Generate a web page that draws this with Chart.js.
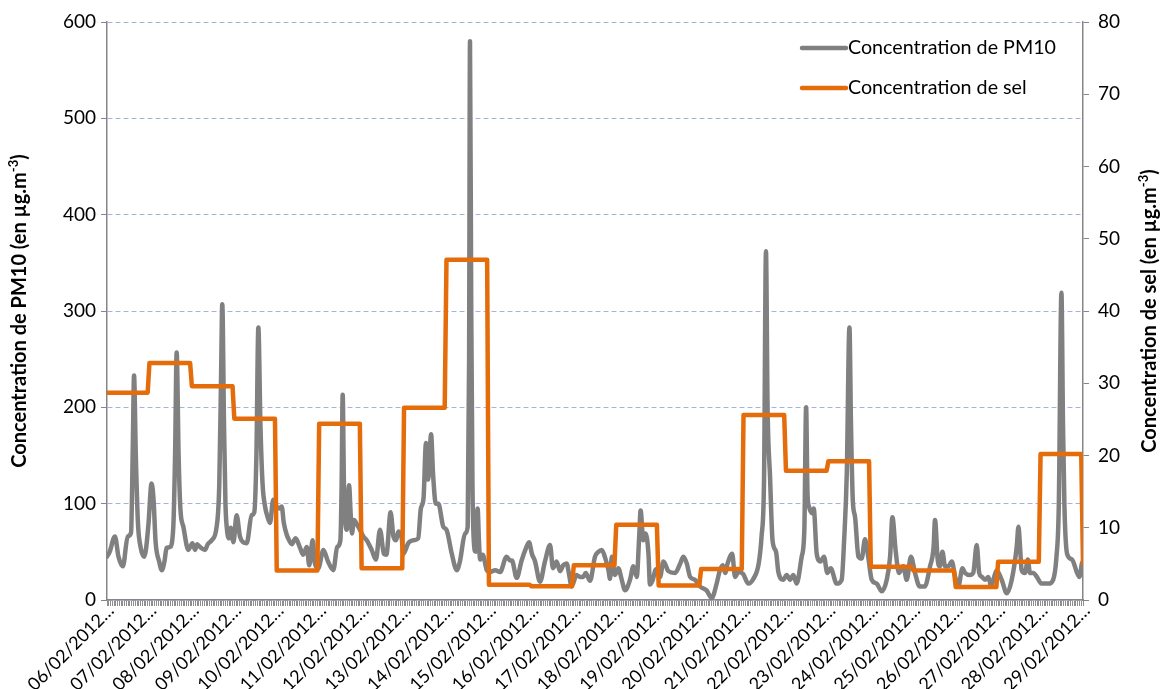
<!DOCTYPE html>
<html>
<head>
<meta charset="utf-8">
<script src="https://cdn.jsdelivr.net/npm/chart.js@4"></script>
<style>
  html, body { margin: 0; padding: 0; background: #ffffff; }
  #wrap { width: 1162px; height: 689px; position: relative; }
</style>
</head>
<body>
<div id="wrap"><canvas id="chart" width="1162" height="689"></canvas></div>
<script>
// Day labels along the time axis (one every 24 hourly readings)
const dayLabels = [
  '06/02/2012…', '07/02/2012…', '08/02/2012…', '09/02/2012…', '10/02/2012…', '11/02/2012…',
  '12/02/2012…', '13/02/2012…', '14/02/2012…', '15/02/2012…', '16/02/2012…', '17/02/2012…',
  '18/02/2012…', '19/02/2012…', '20/02/2012…', '21/02/2012…', '22/02/2012…', '23/02/2012…',
  '24/02/2012…', '25/02/2012…', '26/02/2012…', '27/02/2012…', '28/02/2012…', '29/02/2012…'
];

// PM10 concentration (µg.m-3): hour since 06/02 00:00 and value
const pm10Hours = [
  0, 1.5, 4.5, 6.5, 9, 11.7, 13.6, 14.6, 15.3, 16.3, 17.5, 19, 21,
  22, 23.5, 25.2, 26.3, 27.5, 29.5, 31, 32.5, 33.7, 35.6, 37.5, 38.5, 39.4, 40.5, 41.5, 43.2,
  46, 48.3, 49.8, 51, 52.6, 55.4, 57, 59.2, 62, 63.5, 64.5, 65.2, 66.2, 67, 67.7, 69, 70, 71.5,
  73.3, 75.2, 77, 79, 81.8, 83.3, 84.5, 85.6, 86.8, 88, 89.4, 91, 92.2, 94, 95.9, 97.5, 98.8,
  100, 101.6, 103, 104.5, 106.7, 109, 111, 113, 114.4, 116.3, 117.6, 119.5, 122.4, 125, 128,
  130.2, 132, 132.7, 133.3, 134, 134.6, 135.6, 136.9, 137.8, 138.5, 139.7, 141.5, 143, 145,
  146.9, 149.7, 152.1, 154.4, 156.6, 158, 160.4, 162, 163.5, 164.8, 166.7, 167.6, 170.4, 173.3,
  176, 177.5, 179, 180.4, 181.6, 183.3, 184.4, 186, 187.4, 190.2, 192, 195, 197.8, 199.6, 202.5,
  204, 204.8, 205.3, 206, 206.7, 207.5, 208.5, 209.6, 210.4, 211, 212.5, 214.8, 216.6, 219.6,
  222.3, 226, 228, 229, 231.7, 234.5, 236.8, 238.7, 240.3, 242.1, 244.9, 247.7, 250.6, 252.2,
  254.3, 256.2, 258, 260, 261.2, 262.8, 265.6, 267.5, 269.4, 270.7, 273.2, 276, 277.9, 279.8,
  281.7, 283.6, 284.5, 285.5, 287.3, 289.2, 291, 293, 295.8, 297.7, 299.6, 301, 301.8, 303.3,
  304.6, 306.2, 307.1, 308.5, 310.5, 312.8, 314.7, 317.5, 321.3, 324.2, 326, 327.9, 329.8, 332.6,
  335.4, 339.1, 342, 344.8, 346.5, 348.3, 349.6, 351, 353.6, 355.2, 357, 359.8, 362.7, 365.6,
  368.6, 370.2, 371.6, 372.7, 373.6, 375, 376.4, 378.4, 379.7, 382.5, 384.4, 386.3, 388.2, 390,
  392.9, 394.4, 395.4, 396.2, 397, 398.8, 399.7, 401.4, 403.6, 405.5, 407.4, 409.3, 412.7, 415.5,
  416.9, 418.4, 419.9, 420.8, 421.8, 423.1, 425, 426.8, 428.7, 430.5, 432.5, 435.3, 438.2, 441,
  442.9, 444.2, 446, 447.9, 450.4, 452.3, 454.7, 457, 459.7, 462.5, 465.5, 467.5, 468.3, 469.8,
  471, 472.5, 474, 475.9, 477.8, 479.7, 481.5, 483.8, 485.3, 488.1, 489.9, 491.9, 493.3, 494.8,
  496.6, 498.5, 500, 501.3, 503.2, 506, 508.9, 511.7, 514.5, 515.5, 516.4, 517.3, 519.2, 520.8,
  522, 524, 525.9, 528.5, 532.4, 535.1, 537, 538.3, 539.8, 540.7, 541.5, 543, 545.8, 548.7, 550,
  551.4, 552
];
const pm10Values = [
  45, 50, 66, 45, 35, 66, 70, 160, 233, 150, 80, 55, 45,
  52, 80, 121, 105, 60, 40, 31, 40, 54, 55, 76, 150, 257, 150, 95, 76,
  52, 59, 52, 58, 55, 52, 58, 62, 76, 120, 230, 307, 180, 100, 76, 64, 75, 60,
  88, 66, 60, 59, 88, 91, 150, 283, 180, 120, 97, 85, 80, 104, 97, 95, 97,
  80, 68, 62, 58, 64, 55, 47, 55, 36, 62, 38, 33, 52, 40, 31,
  55, 62, 120, 213, 120, 86, 73, 119, 90, 69, 83, 78, 73, 66,
  62, 52, 42, 73, 48, 47, 91, 66, 62, 71, 64, 48, 59, 62,
  64, 95, 105, 163, 125, 172, 131, 100, 100, 76, 73, 48, 31, 40, 69,
  76, 250, 580, 300, 120, 60, 50, 95, 60, 42, 47, 31, 29, 31,
  29, 45, 41, 41, 23, 41, 53, 60, 48, 40, 19, 40, 57, 33,
  40, 30, 36, 38, 28, 14, 26, 24, 24, 28, 20, 45, 50, 52,
  44, 31, 22, 45, 26, 33, 22, 10, 21, 35, 24, 66, 93, 62,
  69, 49, 16, 20, 32, 24, 40, 30, 28, 38, 45, 38, 24, 21,
  14, 10, 2, 17, 30, 36, 28, 38, 48, 24, 29, 27, 17, 22,
  38, 66, 125, 362, 200, 128, 62, 50, 29, 21, 26, 21, 26, 17,
  45, 73, 200, 110, 97, 90, 95, 48, 40, 45, 28, 33, 17, 21,
  62, 131, 283, 180, 104, 86, 45, 43, 63, 45, 21, 17, 9, 21,
  45, 86, 52, 28, 35, 21, 45, 28, 14, 14, 35, 55, 83, 42,
  35, 50, 35, 35, 40, 24, 14, 33, 28, 26, 28, 57, 28, 24,
  21, 24, 14, 21, 31, 21, 7, 21, 55, 76, 55, 31, 28, 42,
  28, 28, 24, 17, 17, 21, 45, 97, 319, 180, 97, 48, 42, 28, 24,
  38, 40
];

// Daily salt concentration (µg.m-3), one value per day from 06/02 to 28/02,
// then the 29/02 00:00 reading
const saltDaily = [
  28.7, 32.8, 29.6, 25.1, 4.1, 24.4, 4.4, 26.6, 47.1, 2.1, 1.9, 4.8,
  10.4, 2.0, 4.3, 25.6, 17.9, 19.2, 4.6, 4.1, 1.8, 5.3, 20.2
];
const saltLast = 5.1;

const FONT = 'Lato, "Open Sans", sans-serif';
const AXIS_GREY = '#868686';

// hourly readings: each daily value covers hours 0..23 of its day
const saltPoints = [];
saltDaily.forEach((v, d) => {
  saltPoints.push({ x: d * 24, y: v });
  saltPoints.push({ x: d * 24 + 23, y: v });
});
saltPoints.push({ x: dayLabels.length * 24 - 24, y: saltLast });

const pm10Points = pm10Hours.map((h, i) => ({ x: h, y: pm10Values[i] }));

// legend drawn inside the plot, top right, entries stacked
const insideLegend = {
  id: 'insideLegend',
  afterDraw(chart) {
    const { ctx } = chart;
    const x0 = 802, lineW = 44, rowY = [48, 88];
    ctx.save();
    chart.data.datasets.forEach((ds, i) => {
      const y = rowY[i];
      ctx.beginPath();
      ctx.lineCap = 'round';
      ctx.strokeStyle = ds.borderColor;
      ctx.lineWidth = 4.5;
      ctx.moveTo(x0, y);
      ctx.lineTo(x0 + lineW, y);
      ctx.stroke();
      ctx.fillStyle = '#000000';
      ctx.font = '19.7px ' + FONT;
      ctx.textBaseline = 'middle';
      ctx.textAlign = 'left';
      ctx.fillText(ds.label, x0 + lineW + 2, y);
    });
    ctx.restore();
  }
};

// vertical axis titles, both read bottom to top, with a raised "-3"
function drawUnitTitle(ctx, cx, cy, main, unitTail) {
  ctx.save();
  ctx.translate(cx, cy);
  ctx.rotate(-Math.PI / 2);
  ctx.fillStyle = '#000000';
  ctx.textBaseline = 'middle';
  ctx.textAlign = 'left';
  const big = 'bold 20px ' + FONT, small = 'bold 13px ' + FONT;
  ctx.font = big;
  const w1 = ctx.measureText(main).width;
  ctx.font = small;
  const w2 = ctx.measureText('-3').width;
  ctx.font = big;
  const w3 = ctx.measureText(unitTail).width;
  let x = -(w1 + w2 + w3) / 2;
  ctx.fillText(main, x, 0);
  x += w1;
  ctx.font = small;
  ctx.fillText('-3', x, -6);
  x += w2;
  ctx.font = big;
  ctx.fillText(unitTail, x, 0);
  ctx.restore();
}
const axisTitles = {
  id: 'axisTitles',
  afterDraw(chart) {
    const { ctx, chartArea } = chart;
    const cy = (chartArea.top + chartArea.bottom) / 2;
    drawUnitTitle(ctx, 20, cy, 'Concentration de PM10 (en µg.m', ')');
    drawUnitTitle(ctx, 1150, cy, 'Concentration de sel (en µg.m', ')');
  }
};

new Chart(document.getElementById('chart'), {
  type: 'line',
  data: {
    datasets: [
      {
        label: 'Concentration de PM10',
        data: pm10Points,
        yAxisID: 'y',
        borderColor: '#808080',
        borderWidth: 4.5,
        pointRadius: 0,
        cubicInterpolationMode: 'monotone',
        borderJoinStyle: 'round',
        borderCapStyle: 'round',
        order: 2
      },
      {
        label: 'Concentration de sel',
        data: saltPoints,
        yAxisID: 'y1',
        borderColor: '#E46C0A',
        borderWidth: 4.5,
        pointRadius: 0,
        tension: 0,
        borderJoinStyle: 'round',
        borderCapStyle: 'round',
        order: 1
      }
    ]
  },
  options: {
    responsive: false,
    animation: false,
    layout: { padding: { top: 22, left: 0, right: 0, bottom: 0 } },
    plugins: { legend: { display: false }, tooltip: { enabled: false } },
    scales: {
      x: {
        type: 'linear',
        min: 0,
        max: (dayLabels.length - 1) * 24,
        ticks: {
          stepSize: 1,
          autoSkip: false,
          maxRotation: 45,
          minRotation: 45,
          padding: -6,
          labelOffset: 4,
          color: '#000000',
          font: { family: FONT, size: 18 },
          callback: (v) => {
            const h = Math.round(v);
            return h % 24 === 0 ? dayLabels[h / 24] : '';
          }
        },
        grid: { drawOnChartArea: false, drawTicks: true, tickLength: 6, tickColor: '#8e8e8e', lineWidth: 1 },
        border: { color: AXIS_GREY, width: 1.5 },
        afterFit: (s) => { s.height = 89; }
      },
      y: {
        position: 'left',
        min: 0,
        max: 600,
        ticks: { stepSize: 100, padding: 5, color: '#000000', font: { family: FONT, size: 19 } },
        grid: {
          color: '#a3b3e3',
          tickBorderDash: [],
          tickColor: AXIS_GREY,
          tickLength: 6,
          lineWidth: 1
        },
        border: { color: AXIS_GREY, width: 1.5, dash: [5, 3] },
        afterFit: (s) => { s.width = 107; }
      },
      y1: {
        position: 'right',
        min: 0,
        max: 80,
        ticks: { stepSize: 10, padding: 9, color: '#000000', font: { family: FONT, size: 19 } },
        grid: { drawOnChartArea: false, tickColor: AXIS_GREY, tickLength: 6 },
        border: { color: AXIS_GREY, width: 1.5 },
        afterFit: (s) => { s.width = 79; }
      }
    }
  },
  plugins: [insideLegend, axisTitles]
});
</script>
</body>
</html>
